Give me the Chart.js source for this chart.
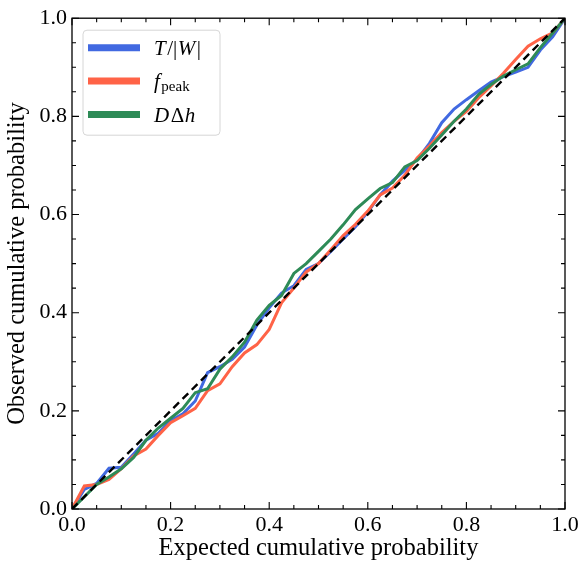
<!DOCTYPE html>
<html>
<head>
<meta charset="utf-8">
<script src="https://cdn.jsdelivr.net/npm/chart.js@4"></script>
<style>
  html, body { margin: 0; padding: 0; background: #fff; }
  #wrap { width: 582px; height: 563px; }
</style>
</head>
<body>
<div id="wrap"><canvas id="myChart" width="582" height="563"></canvas></div>
<script>
// expected cumulative probability (x) and observed values for each parameter
const expected = [0, 0.025, 0.05, 0.075, 0.1, 0.125, 0.15, 0.175, 0.2, 0.225,
  0.25, 0.275, 0.3, 0.325, 0.35, 0.375, 0.4, 0.425, 0.45, 0.475,
  0.5, 0.525, 0.55, 0.575, 0.6, 0.625, 0.65, 0.675, 0.7, 0.725,
  0.75, 0.775, 0.8, 0.825, 0.85, 0.875, 0.9, 0.925, 0.95, 0.975, 1.0];

const obsTW = [0, 0.04, 0.052, 0.083, 0.085, 0.112, 0.14, 0.154, 0.18, 0.194,
  0.22, 0.278, 0.29, 0.305, 0.33, 0.375, 0.41, 0.44, 0.455, 0.488,
  0.5, 0.525, 0.55, 0.575, 0.605, 0.64, 0.668, 0.69, 0.712, 0.745,
  0.787, 0.815, 0.834, 0.852, 0.87, 0.881, 0.89, 0.9, 0.935, 0.962, 1.0];

const obsFpeak = [0, 0.047, 0.05, 0.06, 0.082, 0.108, 0.122, 0.15, 0.176, 0.19,
  0.205, 0.241, 0.255, 0.29, 0.318, 0.335, 0.366, 0.42, 0.45, 0.483,
  0.5, 0.528, 0.557, 0.58, 0.607, 0.64, 0.654, 0.68, 0.715, 0.74,
  0.767, 0.79, 0.81, 0.838, 0.862, 0.888, 0.916, 0.943, 0.958, 0.97, 1.0];

const obsDdh = [0, 0.025, 0.05, 0.065, 0.082, 0.105, 0.14, 0.165, 0.185, 0.205,
  0.237, 0.245, 0.285, 0.31, 0.34, 0.385, 0.415, 0.435, 0.48, 0.5,
  0.525, 0.55, 0.579, 0.61, 0.632, 0.653, 0.665, 0.697, 0.71, 0.735,
  0.762, 0.79, 0.815, 0.845, 0.865, 0.882, 0.895, 0.907, 0.94, 0.97, 1.0];

const diagonal = [0, 1];
const majorTicks = [0, 0.2, 0.4, 0.6, 0.8, 1.0];

const serif = "'Liberation Serif', 'Times New Roman', serif";

function pts(ys) {
  return expected.map((x, i) => ({ x: x, y: ys[i] }));
}

// legend labels with math-style pieces: [text, italic, subscript]
const legendParts = [
  [['T', true], ['/|', false], ['W', true], ['|', false]],
  [['f', true], ['peak', false, true]],
  [['D', true], ['\u0394', false], ['h', true]]
];

const frameTicks = {
  id: 'frameTicks',
  afterDatasetsDraw(chart) {
    const c = chart.ctx;
    const a = chart.chartArea;
    const xs = chart.scales.x, ys = chart.scales.y;
    c.save();
    c.strokeStyle = '#000';
    c.lineWidth = 1.3;
    c.strokeRect(a.left, a.top, a.right - a.left, a.bottom - a.top);
    c.lineWidth = 1.1;
    for (let k = 0; k <= 20; k++) {
      const v = k * 0.05;
      const len = (k % 4 === 0) ? 7 : 4;
      const px = xs.getPixelForValue(v);
      const py = ys.getPixelForValue(v);
      c.beginPath();
      c.moveTo(px, a.bottom); c.lineTo(px, a.bottom - len);
      c.moveTo(px, a.top); c.lineTo(px, a.top + len);
      c.moveTo(a.left, py); c.lineTo(a.left + len, py);
      c.moveTo(a.right, py); c.lineTo(a.right - len, py);
      c.stroke();
    }

    // legend
    const bx = a.left + 11, by = a.top + 12, bw = 137, bh = 105;
    c.fillStyle = 'rgba(255,255,255,0.8)';
    c.strokeStyle = '#d6d6d6';
    c.lineWidth = 1;
    c.beginPath();
    c.roundRect(bx, by, bw, bh, 4);
    c.fill();
    c.stroke();
    const sets = chart.data.datasets.filter(d => !d.hideInLegend);
    sets.forEach((d, i) => {
      const yy = by + 17.5 + i * 33.4;
      c.strokeStyle = d.borderColor;
      c.lineWidth = 7;
      c.lineCap = 'butt';
      c.beginPath();
      c.moveTo(bx + 5, yy);
      c.lineTo(bx + 57, yy);
      c.stroke();
      let tx = bx + 71;
      c.fillStyle = '#000';
      c.textBaseline = 'alphabetic';
      legendParts[i].forEach(p => {
        const sub = p[2];
        c.font = (p[1] ? 'italic ' : '') + (sub ? '15px ' : '21px ') + serif;
        c.fillText(p[0], tx, yy + (sub ? 10 : 7));
        tx += c.measureText(p[0]).width + (p[1] ? 1.5 : 0.5);
      });
    });
    c.restore();
  }
};

const ctx = document.getElementById('myChart').getContext('2d');

new Chart(ctx, {
  type: 'line',
  data: {
    datasets: [
      { label: 'diagonal', data: diagonal.map(v => ({ x: v, y: v })), borderColor: '#000',
        borderWidth: 2.4, borderDash: [8, 5], pointRadius: 0, order: 0, hideInLegend: true },
      { label: 'T/|W|', data: pts(obsTW), borderColor: '#4169E1', borderWidth: 3, pointRadius: 0, order: 3 },
      { label: 'f_peak', data: pts(obsFpeak), borderColor: '#FF6347', borderWidth: 3, pointRadius: 0, order: 2 },
      { label: 'D\u0394h', data: pts(obsDdh), borderColor: '#2E8B57', borderWidth: 3, pointRadius: 0, order: 1 }
    ]
  },
  options: {
    responsive: false,
    animation: false,
    layout: { padding: { top: 15, right: 17, left: 0, bottom: 0 } },
    plugins: { legend: { display: false }, tooltip: { enabled: false } },
    scales: {
      x: {
        type: 'linear', min: 0, max: 1,
        afterBuildTicks: s => { s.ticks = majorTicks.map(v => ({ value: v })); },
        afterFit: s => { s.height = 54; },
        grid: { display: false, drawTicks: false },
        border: { display: false },
        ticks: { padding: 3, color: '#000', font: { family: serif, size: 22 },
                 maxRotation: 0, callback: v => v.toFixed(1) },
        title: { display: true, text: 'Expected cumulative probability', color: '#000',
                 font: { family: serif, size: 24.5 }, padding: { top: 0, bottom: 0 } }
      },
      y: {
        type: 'linear', min: 0, max: 1,
        afterBuildTicks: s => { s.ticks = majorTicks.map(v => ({ value: v })); },
        afterFit: s => { s.width = 72; },
        grid: { display: false, drawTicks: false },
        border: { display: false },
        ticks: { padding: 5, color: '#000', font: { family: serif, size: 22 },
                 callback: v => v.toFixed(1) },
        title: { display: true, text: 'Observed cumulative probability', color: '#000',
                 font: { family: serif, size: 24.5 }, padding: { top: 3, bottom: 0 } }
      }
    }
  },
  plugins: [frameTicks]
});
</script>
</body>
</html>
